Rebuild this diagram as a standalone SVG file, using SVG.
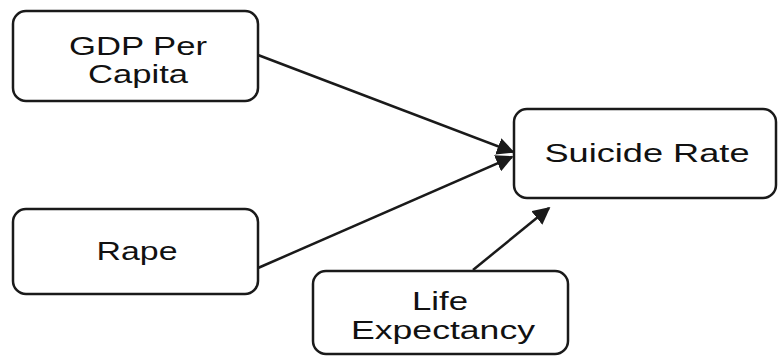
<svg xmlns="http://www.w3.org/2000/svg" width="778" height="356" viewBox="0 0 778 356">
<defs>
<style>
.box{fill:#fff;stroke:#1a1a1a;stroke-width:2.5}
.t{font-family:"Liberation Sans",Arial,sans-serif;font-size:26px;fill:#111;text-anchor:middle}
.c{stroke:#1a1a1a;stroke-width:2.5;fill:none}
</style>
<marker id="ah" viewBox="0 0 10 10" refX="9" refY="5" markerWidth="7" markerHeight="7" orient="auto">
<path d="M0,0 L10,5 L0,10 z" fill="#1a1a1a"/>
</marker>
</defs>
<rect width="778" height="356" fill="#fff"/>
<g id="connectors">
<line class="c" x1="258" y1="55" x2="513" y2="152" marker-end="url(#ah)"/>
<line class="c" x1="258" y1="268" x2="512" y2="157" marker-end="url(#ah)"/>
<line class="c" x1="473" y1="270" x2="549" y2="208" marker-end="url(#ah)"/>
</g>
<g id="gdp">
<rect class="box" x="13" y="11" width="245" height="90" rx="13"/>
<text class="t" x="138" y="55" textLength="138" lengthAdjust="spacingAndGlyphs">GDP Per</text>
<text class="t" x="138" y="83" textLength="100" lengthAdjust="spacingAndGlyphs">Capita</text>
</g>
<g id="suicide">
<rect class="box" x="514" y="109" width="262" height="89" rx="13"/>
<text class="t" x="647" y="162" textLength="205" lengthAdjust="spacingAndGlyphs">Suicide Rate</text>
</g>
<g id="rape">
<rect class="box" x="13" y="209" width="245" height="85" rx="13"/>
<text class="t" x="137" y="260" textLength="81" lengthAdjust="spacingAndGlyphs">Rape</text>
</g>
<g id="life">
<rect class="box" x="313" y="271" width="255" height="83" rx="13"/>
<text class="t" x="440" y="310" textLength="56" lengthAdjust="spacingAndGlyphs">Life</text>
<text class="t" x="443" y="339" textLength="184" lengthAdjust="spacingAndGlyphs">Expectancy</text>
</g>
</svg>
